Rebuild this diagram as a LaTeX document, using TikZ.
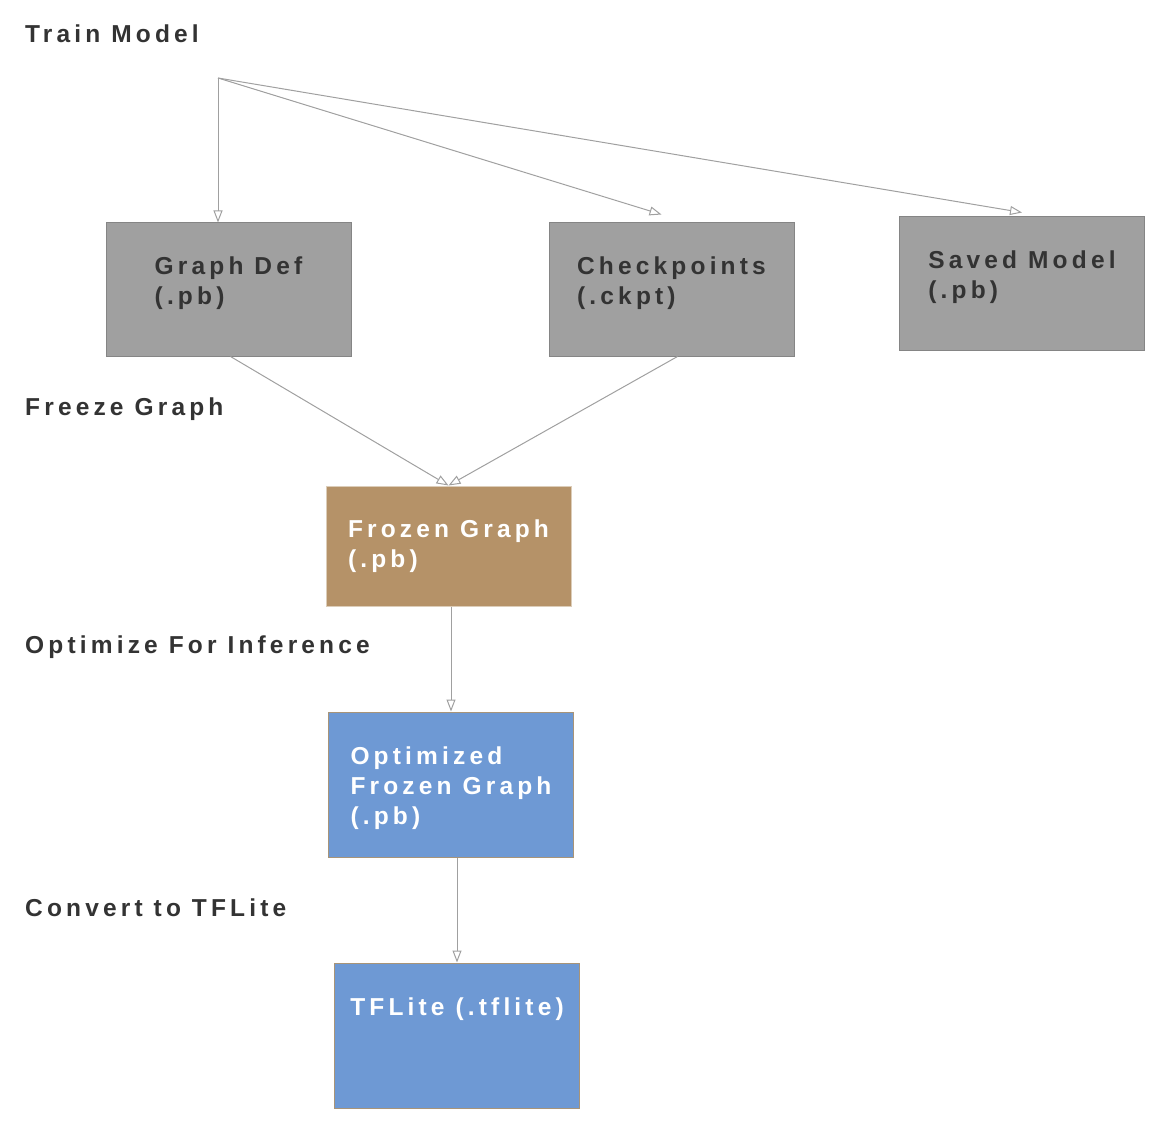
\documentclass[tikz,border=0pt]{standalone}
\usepackage{fontspec}
\setmainfont{Liberation Sans}
\newfontfamily\diagfont[LetterSpace=17]{Liberation Sans}
\usetikzlibrary{
    arrows.meta,
    positioning,
    calc
}
\definecolor{ink}{HTML}{333333}
\definecolor{wire}{HTML}{A0A0A0}
\definecolor{plain}{HTML}{A0A0A0}
\definecolor{plainedge}{HTML}{858585}
\definecolor{frozen}{HTML}{B59268}
\definecolor{frozenedge}{HTML}{DCCDB9}
\definecolor{lite}{HTML}{6E99D4}
\definecolor{liteedge}{HTML}{A89478}
\tikzset{
    % Artefact box style
    artefact/.style={
        rectangle,
        minimum width=245pt,
        minimum height=133pt,
        inner sep=0pt,
        fill=#1,
        line width=1pt
    },
    % Text inside an artefact box
    artefact text/.style={
        font=\diagfont\bfseries\fontsize{24.5}{30}\selectfont,
        align=left,
        inner sep=0pt,
        text=#1
    },
    % Stage label style
    stage label/.style={
        font=\diagfont\bfseries\fontsize{24.5}{30}\selectfont,
        text=ink,
        anchor=base west,
        inner sep=0pt
    },
    % Arrow style
    flow/.style={
        -{Triangle[open, length=12pt, width=9pt]},
        line width=1pt,
        draw=wire
    }
}
\begin{document}
\begin{tikzpicture}[x=1pt, y=-1pt]
        \useasboundingbox (0,0) rectangle (1165,1134);

        % Stage labels
        \node[stage label] (lbl-train) at (25, 43) {Train Model};
        \node[stage label] (lbl-freeze) at (25, 415) {Freeze Graph};
        \node[stage label] (lbl-optimize) at (25, 653) {Optimize For Inference};
        \node[stage label] (lbl-convert) at (25, 916) {Convert to TFLite};

        % Training outputs
        \coordinate (src) at (218, 78);
        \node[artefact=plain, draw=plainedge] (gdef) at (228.5, 289.5) {};
        \node[artefact text=ink, below=34pt of gdef.north] (gdef-txt) {Graph Def\\(.pb)};
        \node[artefact=plain, draw=plainedge] (ckpt) at (671.5, 289.5) {};
        \node[artefact text=ink, below=34pt of ckpt.north] (ckpt-txt) {Checkpoints\\(.ckpt)};
        \node[artefact=plain, draw=plainedge] (saved) at (1022, 283.5) {};
        \node[artefact text=ink, below=34pt of saved.north] (saved-txt) {Saved Model\\(.pb)};

        % Frozen graph
        \node[artefact=frozen, draw=frozenedge, minimum height=120pt] (frozen) at (448.5, 546) {};
        \node[artefact text=white, below=34pt of frozen.north] (frozen-txt) {Frozen Graph\\(.pb)};

        % Optimized and converted
        \node[artefact=lite, draw=liteedge, minimum height=145pt] (opt) at (451, 784.5) {};
        \node[artefact text=white, below=35pt of opt.north] (opt-txt) {Optimized\\Frozen Graph\\(.pb)};
        \node[artefact=lite, draw=liteedge, minimum height=145pt] (tfl) at (457, 1035.5) {};
        \node[artefact text=white, below=35pt of tfl.north] (tfl-txt) {TFLite (.tflite)};

        % Connections
        \draw[flow] (src) -- (src |- gdef.north);
        \draw[flow] (src) -- ($(ckpt.north)+(-10,-8)$);
        \draw[flow] (src) -- ($(saved.north)+(0,-4)$);

        \draw[flow] ($(gdef.south)+(2,0)$) -- (frozen.north);
        \draw[flow] ($(ckpt.south)+(6,0)$) -- (frozen.north);

        \draw[flow] (frozen.south -| opt.north) -- (opt.north);
        \draw[flow] (opt.south -| tfl.north) -- (tfl.north);

    \end{tikzpicture}
\end{document}
